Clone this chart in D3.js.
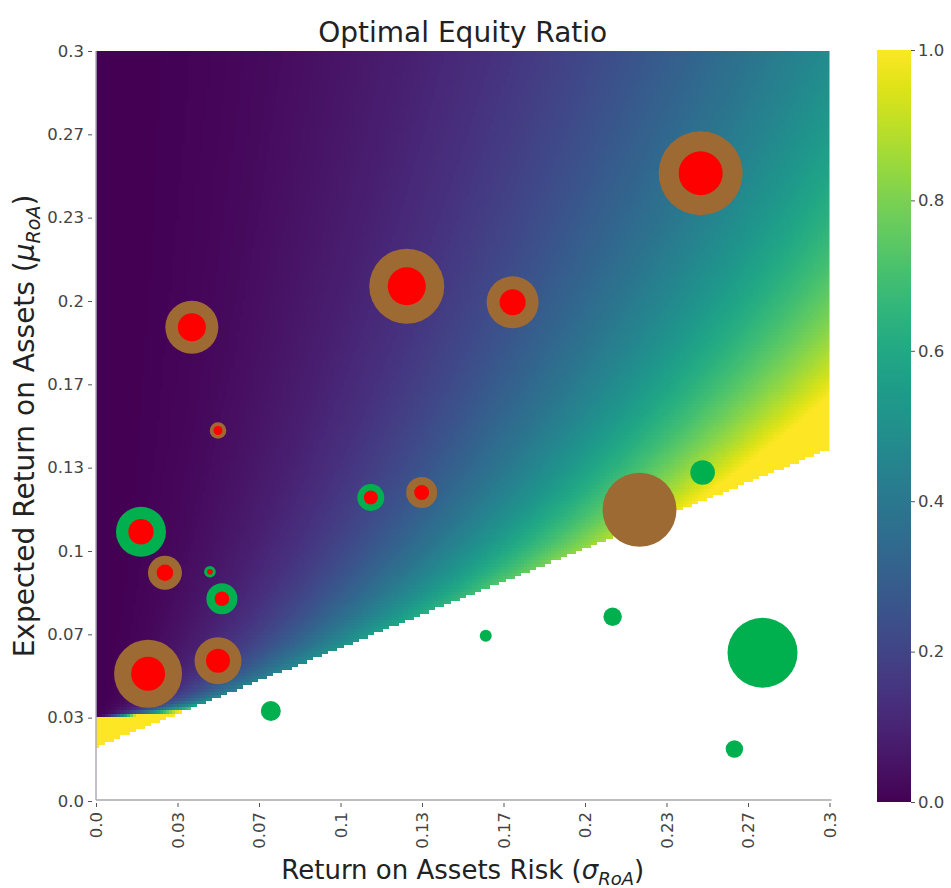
<!DOCTYPE html>
<html>
<head>
<meta charset="utf-8">
<script src="https://cdn.jsdelivr.net/npm/d3@7"></script>
<style>
  body { margin: 0; background: #fff; }
  svg, svg text { font-family: "DejaVu Sans", sans-serif; }
</style>
</head>
<body>
<div id="chart"></div>
<script>
// bubbles: sigma (x), mu (y), outer / inner marker size, outer group
const sigma = [0.2473, 0.1271, 0.1704, 0.0392, 0.0499, 0.1124, 0.1332, 0.2481, 0.2223, 0.0184,
               0.0282, 0.0466, 0.0515, 0.0499, 0.0213, 0.0715, 0.1594, 0.2113, 0.2726, 0.2611]
const mu = [0.2511, 0.2059, 0.1995, 0.1895, 0.1482, 0.1214, 0.1234, 0.1314, 0.1165, 0.1077,
            0.0913, 0.0917, 0.0809, 0.0561, 0.0509, 0.0360, 0.0661, 0.0737, 0.0593, 0.0208]
const outerSize = [1764, 1406, 676, 702, 69, 182, 240, 151, 1369, 625,
                   289, 34, 240, 552, 1156, 100, 36, 85, 1225, 76]
const innerSize = [484, 361, 169, 196, 20, 49, 56, 0, 0, 161,
                   69, 8, 53, 144, 289, 0, 0, 0, 0, 0]
const outerGroup = ["b", "b", "b", "b", "b", "g", "b", "g", "b", "g",
                    "b", "g", "g", "b", "b", "g", "g", "g", "g", "g"]

// tick labels
const tickLabels = ["0.0", "0.03", "0.07", "0.1", "0.13", "0.17", "0.2", "0.23", "0.27", "0.3"]
const cbarTicks = [0, 0.2, 0.4, 0.6, 0.8, 1.0]

// surface parameters (white floor line, flat level, curvature)
const floorIntercept = 0.0216
const floorSlope = 0.397
const flatLevel = 0.034
const curvature = 1.415

const W = 951, H = 888
const svg = d3.select("#chart").append("svg").attr("width", W).attr("height", H)

const x = d3.scaleLinear().domain([0, 0.3]).range([96, 829.5])
const y = d3.scaleLinear().domain([0, 0.3]).range([801, 51])
const tickVals = tickLabels.map((_d, i) => i * 0.3 / 9)

// heatmap
const n = 240
const canvas = document.createElement("canvas")
canvas.width = n
canvas.height = n
const ctx = canvas.getContext("2d")
const img = ctx.createImageData(n, n)
for (let j = 0; j < n; j += 1) {
    const m = 0.3 - (j + 0.5) / n * 0.3
    for (let i = 0; i < n; i += 1) {
        const s = (i + 0.5) / n * 0.3
        const k = (j * n + i) * 4
        if (m < floorIntercept + floorSlope * s) {
            img.data[k + 3] = 0
            continue
        }
        const v = m <= flatLevel ? 1 : Math.min(1, curvature * s * s / (m - flatLevel))
        const c = d3.rgb(d3.interpolateViridis(v))
        img.data[k] = c.r
        img.data[k + 1] = c.g
        img.data[k + 2] = c.b
        img.data[k + 3] = 255
    }
}
ctx.putImageData(img, 0, 0)

svg.append("image")
    .attr("href", canvas.toDataURL())
    .attr("x", x(0))
    .attr("y", y(0.3))
    .attr("width", x(0.3) - x(0))
    .attr("height", y(0) - y(0.3))
    .attr("preserveAspectRatio", "none")
    .style("image-rendering", "pixelated")

// spines
svg.append("line")
    .attr("x1", x(0)).attr("x2", x(0))
    .attr("y1", y(0.3)).attr("y2", y(0) - 1)
    .attr("stroke", "#b0aab8").attr("stroke-width", 1.5)
svg.append("line")
    .attr("x1", x(0)).attr("x2", x(0.3) + 2)
    .attr("y1", y(0) - 1).attr("y2", y(0) - 1)
    .attr("stroke", "#a8a8a8").attr("stroke-width", 1.5)

// axes
const xAxis = svg.append("g")
    .attr("transform", `translate(0,${y(0) + 2})`)
    .call(d3.axisBottom(x).tickValues(tickVals).tickFormat((_d, i) => tickLabels[i]).tickSize(4).tickPadding(4))
xAxis.attr("font-family", null)
xAxis.select(".domain").remove()
xAxis.selectAll(".tick line").attr("stroke", "#555")
xAxis.selectAll(".tick text")
    .attr("transform", "rotate(-90)")
    .attr("text-anchor", "end")
    .attr("x", -9)
    .attr("y", 0)
    .attr("dy", "0.35em")
    .attr("fill", "#444")
    .style("font-size", "16.5px")

const yAxis = svg.append("g")
    .attr("transform", `translate(${x(0) - 4},0)`)
    .call(d3.axisLeft(y).tickValues(tickVals).tickFormat((_d, i) => tickLabels[i]).tickSize(4).tickPadding(4))
yAxis.attr("font-family", null)
yAxis.select(".domain").remove()
yAxis.selectAll(".tick line").attr("stroke", "#555")
yAxis.selectAll(".tick text").attr("fill", "#444").style("font-size", "16.5px")

// bubbles
const size = d3.scaleSqrt().domain([0, 1800]).range([0, Math.sqrt(1800)])
const groupColor = d3.scaleOrdinal().domain(["b", "g"]).range(["#9e6a34", "#00b04f"])
const pts = sigma.map((s, i) => ({ s, m: mu[i], o: outerSize[i], r: innerSize[i], g: outerGroup[i] }))

svg.append("g").selectAll("circle")
    .data(pts)
    .enter()
    .append("circle")
    .attr("cx", d => x(d.s))
    .attr("cy", d => y(d.m))
    .attr("r", d => size(d.o))
    .attr("fill", d => groupColor(d.g))

svg.append("g").selectAll("circle")
    .data(pts.filter(d => d.r > 0))
    .enter()
    .append("circle")
    .attr("cx", d => x(d.s))
    .attr("cy", d => y(d.m))
    .attr("r", d => size(d.r))
    .attr("fill", "#ff0000")

// title and labels
svg.append("text")
    .attr("x", (x(0) + x(0.3)) / 2).attr("y", 42)
    .attr("text-anchor", "middle")
    .style("font-size", "28px").attr("fill", "#222")
    .text("Optimal Equity Ratio")

const xl = svg.append("text")
    .attr("x", (x(0) + x(0.3)) / 2).attr("y", 879)
    .attr("text-anchor", "middle")
    .style("font-size", "26px").attr("fill", "#222")
xl.append("tspan").text("Return on Assets Risk (")
xl.append("tspan").style("font-style", "italic").text("σ")
xl.append("tspan").style("font-style", "italic").style("font-size", "18px").attr("dy", 6).text("RoA")
xl.append("tspan").attr("dy", -6).text(")")

const yl = svg.append("text")
    .attr("transform", `translate(34,${(y(0) + y(0.3)) / 2}) rotate(-90)`)
    .attr("text-anchor", "middle")
    .style("font-size", "28px").attr("fill", "#222")
yl.append("tspan").text("Expected Return on Assets (")
yl.append("tspan").style("font-style", "italic").text("μ")
yl.append("tspan").style("font-style", "italic").style("font-size", "19px").attr("dy", 6).text("RoA")
yl.append("tspan").attr("dy", -6).text(")")

// colorbar
const cb = d3.scaleLinear().domain([0, 1]).range([802, 50])
const grad = svg.append("defs").append("linearGradient")
    .attr("id", "viridis").attr("x1", 0).attr("x2", 0).attr("y1", 1).attr("y2", 0)
d3.range(0, 1.001, 0.05).forEach(t => {
    grad.append("stop").attr("offset", t).attr("stop-color", d3.interpolateViridis(t))
})
svg.append("rect")
    .attr("x", 877).attr("y", cb(1))
    .attr("width", 34).attr("height", cb(0) - cb(1))
    .attr("fill", "url(#viridis)")

const cAxis = svg.append("g")
    .attr("transform", "translate(911,0)")
    .call(d3.axisRight(cb).tickValues(cbarTicks).tickFormat(d3.format(".1f")).tickSize(4).tickPadding(3))
cAxis.attr("font-family", null)
cAxis.select(".domain").remove()
cAxis.selectAll(".tick line").attr("stroke", "#555")
cAxis.selectAll(".tick text").attr("fill", "#444").style("font-size", "16.5px")
</script>
</body>
</html>
